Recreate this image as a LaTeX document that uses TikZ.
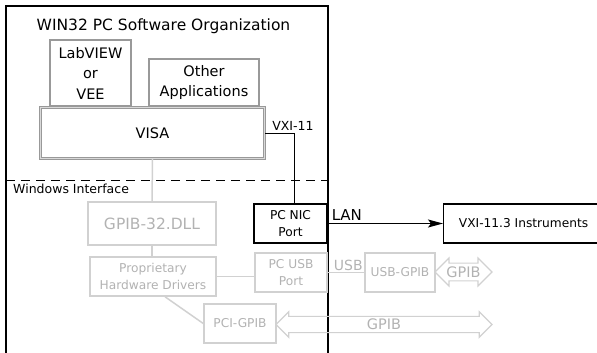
\documentclass[tikz,border=0pt]{standalone}
\usepackage{fontspec}
\setmainfont{DejaVu Sans}
\usetikzlibrary{shapes.arrows,arrows.meta}

\begin{document}
\begin{tikzpicture}[x=1pt,y=-1pt,>={Stealth[length=15pt,width=8pt,inset=3pt]},
  sw node/.style={draw=black!40,line width=1.8pt,inner sep=0pt,align=center,font=\fontsize{14.5}{20.5}\selectfont},
  old node/.style={draw=black!18,line width=1.5pt,text=black!30,inner sep=0pt,align=center,font=\fontsize{12.2}{17.5}\selectfont},
  hw node/.style={draw=black,line width=1.2pt,inner sep=0pt,align=center,font=\fontsize{12.2}{17}\selectfont},
  bus arrow/.style={double arrow,draw=black!18,line width=1.2pt,text=black!30,inner sep=0pt,double arrow head extend=3.5pt,font=\fontsize{14.5}{17}\selectfont},
  old line/.style={draw=black!18,line width=1.5pt},
  tag/.style={anchor=base west,inner sep=0pt}]
  \useasboundingbox (0,0) rectangle (597,353);

  \draw[line width=2.2pt] (6,354) -- (6,6) -- (328,6) -- (328,354);
  \draw[line width=1pt,dash pattern=on 9pt off 6pt] (6,180) -- (328,180);

  \node[anchor=base,inner sep=0pt,font=\fontsize{15.5}{18}\selectfont] (title) at (163.5,31) {WIN32 PC Software Organization};
  \node[tag,font=\fontsize{12.5}{15}\selectfont] (winif) at (13,193) {Windows Interface};

  \node[sw node,minimum width=81pt,minimum height=66pt] (labview) at (90.5,73) {LabVIEW\\or\\VEE};
  \node[sw node,minimum width=110pt,minimum height=47pt] (other) at (204,82.5) {Other\\Applications};
  \node[sw node,line width=1.3pt,double=black!15,double distance=1.2pt,minimum width=224pt,minimum height=51pt] (visa) at (152.5,133) {VISA};

  \node[old node,font=\fontsize{15.5}{18}\selectfont,minimum width=128pt,minimum height=43pt] (dll) at (152,223.5) {GPIB-32.DLL};
  \node[old node,minimum width=126pt,minimum height=39pt] (prop) at (153,276.5) {Proprietary\\Hardware Drivers};
  \node[old node,minimum width=72pt,minimum height=39pt] (usbport) at (291,272.5) {PC USB\\Port};
  \node[old node,minimum width=70pt,minimum height=39pt] (usbgpib) at (400,272.5) {USB-GPIB};
  \node[old node,minimum width=72pt,minimum height=39pt] (pcigpib) at (240,323.5) {PCI-GPIB};
  \node[hw node,minimum width=73pt,minimum height=39pt] (nic) at (290.5,223.5) {PC NIC\\Port};
  \node[hw node,anchor=west,minimum width=160pt,minimum height=39pt] (instr) at (443,223.5) {VXI-11.3 Instruments};

  \node[bus arrow,minimum width=28pt,minimum height=57pt] (usbbus) at (463.5,272) {GPIB};
  \node[bus arrow,minimum width=25.6pt,minimum height=216pt] (pcibus) at (384,324.5) {GPIB};

  \draw[old line] (visa.south) -- (dll.north);
  \draw[old line] (dll.south) -- (dll.south |- prop.north);
  \draw[old line] (prop.east) -- (prop.east -| usbport.west);
  \draw[old line] ([xshift=12pt]prop.south) -- (pcigpib.west);
  \draw[old line] (usbport.east) -- (usbgpib.west);
  \node[tag,text=black!30,font=\fontsize{14}{17}\selectfont] (usb) at ([xshift=6pt,yshift=2.5pt]usbport.east) {USB};

  \draw[line width=1pt] (visa.east) -| ([xshift=3.5pt]nic.north);
  \node[tag,font=\fontsize{12.5}{15}\selectfont] (vxi) at ([xshift=7pt,yshift=2.5pt]visa.east) {VXI-11};

  \draw[->,line width=1.4pt] (nic.east) -- (instr.west);
  \node[tag,font=\fontsize{15}{17}\selectfont] (lan) at ([xshift=4pt,yshift=3pt]nic.east) {LAN};
\end{tikzpicture}
\end{document}
